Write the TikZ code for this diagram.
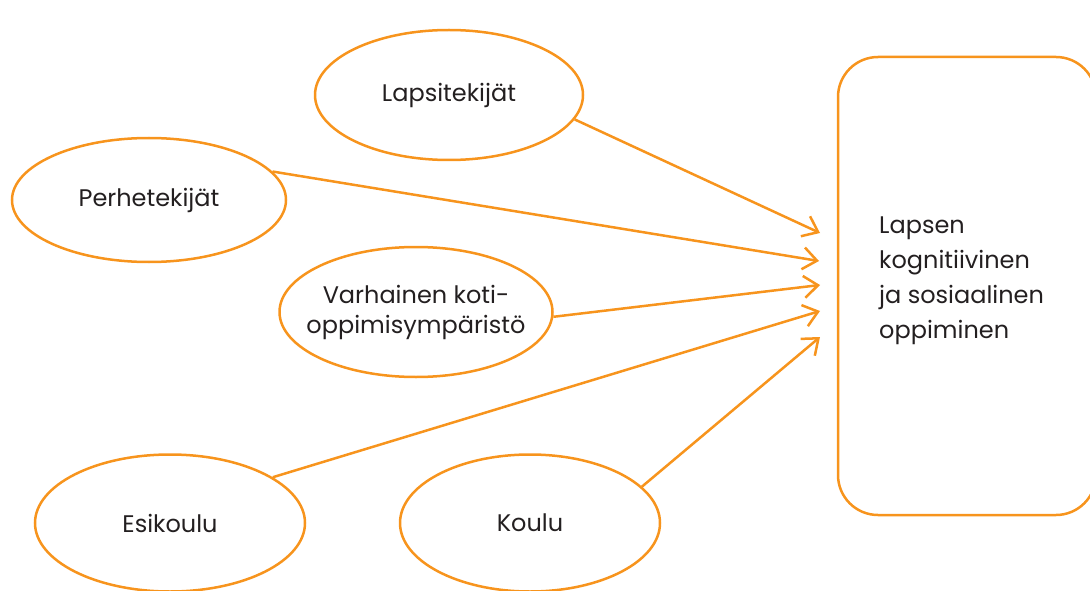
\documentclass[tikz,border=0pt]{standalone}
\usepackage{fontspec}
\setmainfont{Poppins}
\usetikzlibrary{shapes.geometric,arrows.meta}
\definecolor{orng}{HTML}{F7941D}
\definecolor{txt}{HTML}{231F20}
\begin{document}
\begin{tikzpicture}[x=1pt,y=-1pt,
  factor/.style={ellipse,draw=orng,line width=2.5pt,inner sep=0pt,inner xsep=-40pt,text=txt,
    font=\fontsize{24}{30}\selectfont,align=center},
  link/.style={draw=orng,line width=2.5pt,-{Straight Barb[length=14pt,width=22pt]}}]
\useasboundingbox (0,0) rectangle (1090,591);
\node[factor,minimum width=268pt,minimum height=130pt] (lapsi) at (449,95) {Lapsitekijät};
\node[factor,minimum width=274pt,minimum height=124pt] (perhe) at (149,200) {Perhetekijät};
\node[factor,minimum width=273pt,minimum height=130pt] (koti) at (416,312) {Varhainen koti-\\oppimisympäristö};
\node[factor,minimum width=270pt,minimum height=137pt] (esi) at (170,523) {Esikoulu};
\node[factor,minimum width=260pt,minimum height=137pt] (koulu) at (530,523) {Koulu};
\node[draw=orng,line width=2.5pt,rounded corners=40pt,minimum width=258pt,minimum height=458pt,inner sep=0pt] (box) at (967,286) {};
\node[anchor=base west,align=left,text=txt,font=\fontsize{24}{35}\selectfont,inner sep=0pt] (boxtext) at (879,338) {Lapsen\\kognitiivinen\\ja sosiaalinen\\oppiminen};
\coordinate (t1) at (820,233);
\coordinate (t2) at (819,261);
\coordinate (t3) at (820,285);
\coordinate (t4) at (820,311);
\coordinate (t5) at (820,337);
\draw[link] (lapsi.-11.6) -- (t1);
\draw[link] (perhe.13) -- (t2);
\draw[link] (koti.-2) -- (t3);
\draw[link] (esi.24) -- (t4);
\draw[link] (koulu.18.7) -- (t5);
\end{tikzpicture}
\end{document}
